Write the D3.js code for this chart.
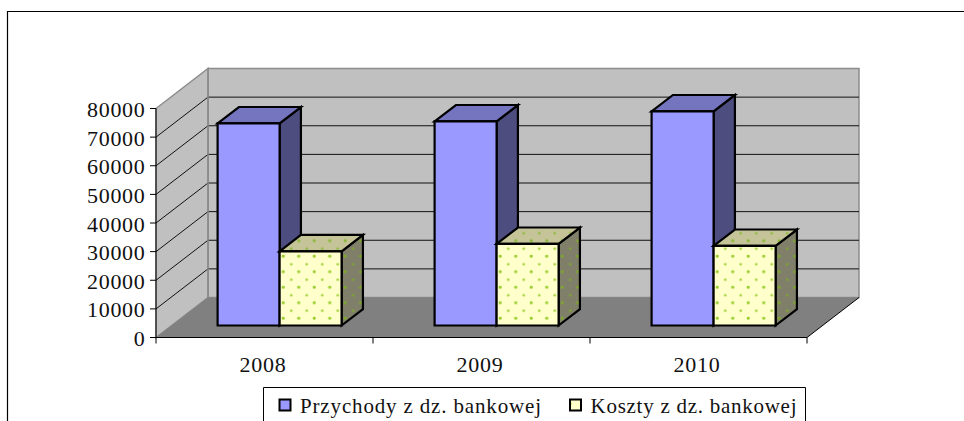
<!DOCTYPE html>
<html>
<head>
<meta charset="utf-8">
<style>
  html, body { margin: 0; padding: 0; background: #fff; }
  svg { display: block; }
  text { font-family: "Liberation Serif", serif; fill: #111; }
</style>
<script src="https://cdn.jsdelivr.net/npm/d3@7"></script>
</head>
<body>
<svg id="svg" width="964" height="421"></svg>
<script>
const WIDTH = 964
const HEIGHT = 421

const YEARS = ['2008', '2009', '2010']
const SERIES = ['Przychody z dz. bankowej', 'Koszty z dz. bankowej']
const PRZYCHODY = [70600, 71300, 74800]
const KOSZTY = [25900, 28500, 27800]
const Y_TICKS = [0, 10000, 20000, 30000, 40000, 50000, 60000, 70000, 80000]

const SVG = d3.select('#svg')

// front plane of the plot box, the depth goes up and to the right
const x = d3.scaleBand().domain(YEARS).range([156, 807]).paddingInner(0).paddingOuter(0)
const inner = d3.scaleBand().domain(SERIES).range([46, x.bandwidth() - 47])
const y = d3.scaleLinear().domain([0, 80000]).range([337.5, 108.5])
const depthX = d3.scaleLinear().domain([0, 1]).range([0, 52])
const depthY = d3.scaleLinear().domain([0, 1]).range([0, -40])
const BAR_NEAR = 0.3
const BAR_FAR = 0.71

const pt = (px, val, d) => [px + depthX(d), y(val) + depthY(d)]
const poly = pts => 'M' + pts.map(p => p.join(',')).join('L') + 'Z'

const defs = SVG.append('defs')
const dots = (id, bg, dot) => {
  const p = defs.append('pattern')
    .attr('id', id)
    .attr('patternUnits', 'userSpaceOnUse')
    .attr('width', 15.5)
    .attr('height', 15.5)
    .attr('x', 283)
    .attr('y', 256)
  p.append('rect').attr('width', 15.5).attr('height', 15.5).attr('fill', bg)
  p.selectAll('circle')
    .data([[0.5, 0.5], [8.25, 8.25], [15.5, 15.5], [15.5, 0.5], [0.5, 15.5]])
    .enter()
    .append('circle')
    .attr('cx', d => d[0])
    .attr('cy', d => d[1])
    .attr('r', 1.25)
    .attr('fill', dot)
}
dots('dotFront', '#ffffcc', '#9ccf30')
dots('dotTop', '#c4c498', '#8cb83a')
dots('dotSide', '#80806a', '#7ea62c')

// page frame, open on the right and at the bottom
SVG.append('path')
  .attr('d', `M7.5,${HEIGHT}V11.5H${WIDTH}`)
  .attr('fill', 'none')
  .attr('stroke', '#000')
  .attr('stroke-width', 1.2)

const X0 = 156
const X1 = 807
const Y0 = 0
const Y1 = 80000

// back wall
SVG.append('path')
  .attr('d', poly([pt(X0, Y0, 1), pt(X1, Y0, 1), pt(X1, Y1, 1), pt(X0, Y1, 1)]))
  .attr('fill', '#c0c0c0')
  .attr('stroke', '#8c8c8c')
  .attr('stroke-width', 1.5)

// side wall
SVG.append('path')
  .attr('d', poly([pt(X0, Y0, 0), pt(X0, Y0, 1), pt(X0, Y1, 1), pt(X0, Y1, 0)]))
  .attr('fill', '#c0c0c0')
  .attr('stroke', '#8c8c8c')
  .attr('stroke-width', 1.5)

// floor
SVG.append('path')
  .attr('d', poly([pt(X0, Y0, 0), pt(X1, Y0, 0), pt(X1, Y0, 1), pt(X0, Y0, 1)]))
  .attr('fill', '#808080')

// gridlines along both walls
const GRID = Y_TICKS.slice(1, -1)
SVG.append('g')
  .selectAll('path')
  .data(GRID)
  .enter()
  .append('path')
  .attr('d', d => d3.line()([pt(X0, d, 0), pt(X0, d, 1), pt(X1, d, 1)]))
  .attr('fill', 'none')
  .attr('stroke', '#111')
  .attr('stroke-width', 1)

// the wall's vertical back corner sits over the gridlines
SVG.append('path')
  .attr('d', d3.line()([pt(X0, Y0, 1), pt(X0, Y1, 1)]))
  .attr('stroke', '#8c8c8c')
  .attr('stroke-width', 1.5)

// front edges of the floor
SVG.append('path')
  .attr('d', d3.line()([pt(X1, Y0, 1), pt(X1, Y0, 0), pt(X0, Y0, 0)]))
  .attr('fill', 'none')
  .attr('stroke', '#000')
  .attr('stroke-width', 1)

// y axis
SVG.append('path')
  .attr('d', d3.line()([[X0, y(Y0)], [X0, y(Y1)]]))
  .attr('stroke', '#000')
  .attr('stroke-width', 1)

SVG.append('g')
  .selectAll('line')
  .data(Y_TICKS)
  .enter()
  .append('line')
  .attr('x1', X0 - 6)
  .attr('x2', X0)
  .attr('y1', d => y(d))
  .attr('y2', d => y(d))
  .attr('stroke', '#000')

SVG.append('g')
  .selectAll('text')
  .data(Y_TICKS)
  .enter()
  .append('text')
  .text(d => d)
  .attr('x', 145.5)
  .attr('y', d => y(d) + 8.5)
  .attr('text-anchor', 'end')
  .attr('font-size', 22)
  .attr('letter-spacing', 0.7)

// x axis
const XT = YEARS.map(d => x(d)).concat([X1])
SVG.append('g')
  .selectAll('line')
  .data(XT)
  .enter()
  .append('line')
  .attr('x1', d => d)
  .attr('x2', d => d)
  .attr('y1', y(0))
  .attr('y2', y(0) + 6)
  .attr('stroke', '#000')

SVG.append('g')
  .selectAll('text')
  .data(YEARS)
  .enter()
  .append('text')
  .text(d => d)
  .attr('x', d => x(d) + x.bandwidth() / 2 - 1.5)
  .attr('y', 372)
  .attr('text-anchor', 'middle')
  .attr('font-size', 22)
  .attr('letter-spacing', 0.7)

// bars, drawn year by year, tall one first
const SKIN = [
  { front: '#9999ff', top: '#7575bf', side: '#4d4d80' },
  { front: 'url(#dotFront)', top: 'url(#dotTop)', side: 'url(#dotSide)' }
]
const BARS = []
YEARS.forEach((year, i) => {
  BARS.push({ year, s: 0, v: PRZYCHODY[i] })
  BARS.push({ year, s: 1, v: KOSZTY[i] })
})

const bar = SVG.append('g')
  .selectAll('g')
  .data(BARS)
  .enter()
  .append('g')
  .attr('stroke', '#000')
  .attr('stroke-width', 2.2)
  .attr('stroke-linejoin', 'miter')

const left = d => x(d.year) + inner(SERIES[d.s])
const right = d => left(d) + inner.bandwidth()

bar.append('path')
  .attr('d', d => poly([pt(right(d), 0, BAR_NEAR), pt(right(d), 0, BAR_FAR), pt(right(d), d.v, BAR_FAR), pt(right(d), d.v, BAR_NEAR)]))
  .attr('fill', d => SKIN[d.s].side)

bar.append('path')
  .attr('d', d => poly([pt(left(d), d.v, BAR_NEAR), pt(right(d), d.v, BAR_NEAR), pt(right(d), d.v, BAR_FAR), pt(left(d), d.v, BAR_FAR)]))
  .attr('fill', d => SKIN[d.s].top)

bar.append('path')
  .attr('d', d => poly([pt(left(d), 0, BAR_NEAR), pt(right(d), 0, BAR_NEAR), pt(right(d), d.v, BAR_NEAR), pt(left(d), d.v, BAR_NEAR)]))
  .attr('fill', d => SKIN[d.s].front)

// legend, cut off by the bottom of the picture
SVG.append('path')
  .attr('d', `M263.5,${HEIGHT}V387.5H805.5V${HEIGHT}`)
  .attr('fill', 'none')
  .attr('stroke', '#000')
  .attr('stroke-width', 1)

const LEG_X = [279.5, 570]
const LEG_W = [241, 206]
const LEG = SVG.append('g')
  .selectAll('g')
  .data(SERIES)
  .enter()
  .append('g')

LEG.append('rect')
  .attr('x', (d, i) => LEG_X[i])
  .attr('y', 399.5)
  .attr('width', 11)
  .attr('height', 11)
  .attr('fill', (d, i) => SKIN[i].front)
  .attr('stroke', '#000')
  .attr('stroke-width', 2)

LEG.append('text')
  .text(d => d)
  .attr('x', (d, i) => LEG_X[i] + 20.5)
  .attr('y', 413)
  .attr('font-size', 21)
  .attr('textLength', (d, i) => LEG_W[i])
</script>
</body>
</html>
